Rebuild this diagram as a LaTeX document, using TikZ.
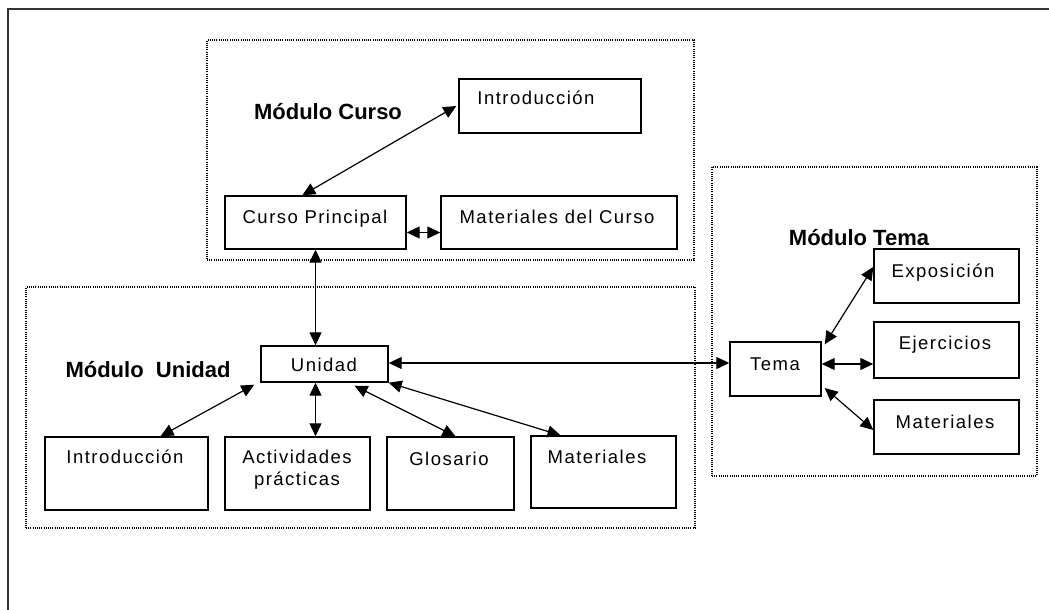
\documentclass[tikz,border=0pt]{standalone}
\usepackage{fontspec}
\setmainfont{Liberation Sans}
\newfontfamily\boxfont[LetterSpace=8]{Liberation Sans}
\usetikzlibrary{arrows.meta,calc}
\begin{document}
\begin{tikzpicture}[x=1pt,y=-1pt,
  box/.style={draw=black, line width=1.4pt, rectangle, inner sep=0pt},
  txt/.style={font=\boxfont\fontsize{18.5}{22}\selectfont, inner sep=0pt, anchor=base},
  ttl/.style={font=\bfseries\fontsize{22}{24}\selectfont, inner sep=0pt, anchor=base},
  modbox/.style={draw=black, line width=1.1pt, dash pattern=on 1pt off 1.2pt, rectangle, inner sep=0pt},
  link/.style={line width=1.2pt, {Triangle[length=13pt,width=12pt]}-{Triangle[length=13pt,width=12pt]}},
]
\useasboundingbox (0,0) rectangle (1049,610);
\fill[white] (0,0) rectangle (1049,610);
% outer frame
\draw[line width=2.5pt, black!80] (8,612) -- (8,9) -- (1051,9);

% module boxes
\node[modbox, minimum width=487pt, minimum height=220pt] (mcurso) at (450.5,150) {};
\node[modbox, minimum width=669pt, minimum height=241pt] (munidad) at (360.5,407.5) {};
\node[modbox, minimum width=325pt, minimum height=309pt] (mtema) at (874.5,321.5) {};

% titles
\node[ttl] (tcurso) at (328,119) {Módulo Curso};
\node[ttl] (tunidad) at (148,377) {Módulo\ \ Unidad};
\node[ttl] (ttema) at (859,245) {Módulo Tema};

% boxes
\node[box, minimum width=182pt, minimum height=54pt] (introC) at (550,106) {};
\node[box, minimum width=181pt, minimum height=53pt] (cp) at (315.5,222.5) {};
\node[box, minimum width=236pt, minimum height=53pt] (matC) at (559,222.5) {};
\node[box, minimum width=127pt, minimum height=36pt] (unidad) at (324.5,364) {};
\node[box, minimum width=163pt, minimum height=73pt] (introU) at (126.5,473.5) {};
\node[box, minimum width=145pt, minimum height=73pt] (act) at (297.5,473.5) {};
\node[box, minimum width=127pt, minimum height=73pt] (glos) at (450.5,473.5) {};
\node[box, minimum width=145pt, minimum height=72pt] (matU) at (603.5,472) {};
\node[box, minimum width=91pt, minimum height=54pt] (tema) at (775.5,369) {};
\node[box, minimum width=145pt, minimum height=54pt] (expo) at (946.5,276) {};
\node[box, minimum width=145pt, minimum height=56pt] (ejer) at (946.5,350) {};
\node[box, minimum width=145pt, minimum height=54pt] (matT) at (946.5,427) {};

% texts
\node[txt] (lintroC) at (536,104) {Introducción};
\node[txt] (lcp) at (315,223) {Curso Principal};
\node[txt] (lmatC) at (557,223) {Materiales del Curso};
\node[txt] (lunidad) at (324,371) {Unidad};
\node[txt] (lintroU) at (125,463) {Introducción};
\node[txt, anchor=center, align=center] (lact) at (297,470) {Actividades\\prácticas};
\node[txt] (lglos) at (449,465) {Glosario};
\node[txt] (lmatU) at (597,463) {Materiales};
\node[txt] (ltema) at (775,370) {Tema};
\node[txt] (lexpo) at (943,277) {Exposición};
\node[txt] (lejer) at (945,349) {Ejercicios};
\node[txt] (lmatT) at (945,428) {Materiales};

% connectors
\draw[link] ($(introC.west)+(-2,0)$) -- ($(cp.north west)+(78,0)$);
\draw[link] ($(cp.east)+(0,10)$) -- ($(matC.west)+(0,10)$);
\draw[link] (cp.south) -- (cp.south |- unidad.north);
\draw[link] ($(unidad.east)+(0,-1)$) -- ($(tema.west)+(0,-6)$);
\draw[link] ($(unidad.south west)+(-6,2)$) -- ($(introU.north)+(34,0)$);
\draw[link] (cp.south |- unidad.south) -- (cp.south |- act.north);
\draw[link] ($(unidad.south)+(30,3)$) -- ($(glos.north)+(5,0)$);
\draw[link] (unidad.south east) -- ($(matU.north)+(-43,0)$);
\draw[link] ($(tema.north east)+(3,3)$) -- ($(expo.west)+(0,-9)$);
\draw[link] ($(tema.east)+(0,-5)$) -- ($(ejer.west)+(0,14)$);
\draw[link] ($(tema.east)+(3,19)$) -- ($(matT.west)+(0,3)$);
\end{tikzpicture}
\end{document}
